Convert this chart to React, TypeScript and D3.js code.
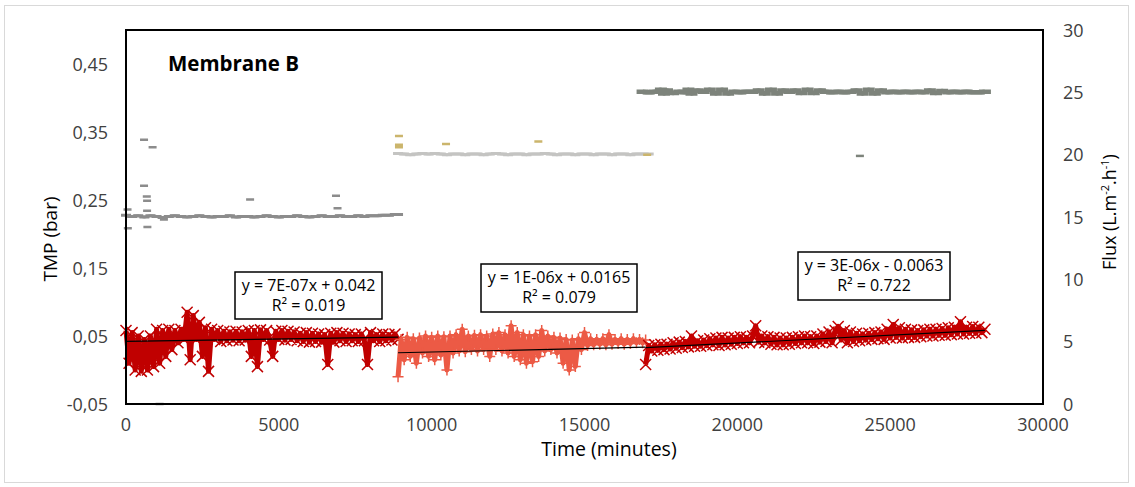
import React from 'react';
import * as d3 from 'd3';

// ---------- axis ticks ----------
const timeTicks = [0, 5000, 10000, 15000, 20000, 25000, 30000];
const tmpTicks = [-0.05, 0.05, 0.15, 0.25, 0.35, 0.45];
const fluxTicks = [0, 5, 10, 15, 20, 25, 30];

// ---------- TMP series (bar) : [time (min), TMP] ----------
const tmpPhase1: [number, number][] = [
  [0, 0.058], [100, 0.01], [200, 0.055], [300, 0.0], [400, 0.05], [500, -0.002], [600, 0.045], [700, 0.0],
  [800, 0.05], [900, 0.005], [1000, 0.06], [1100, 0.01], [1200, 0.058], [1300, 0.02], [1400, 0.06], [1500, 0.03],
  [1600, 0.058], [1700, 0.04], [1800, 0.06], [1900, 0.045], [2000, 0.085], [2100, 0.015], [2200, 0.08], [2300, 0.045],
  [2400, 0.07], [2500, 0.02], [2600, 0.062], [2700, -0.002], [2800, 0.06], [2900, 0.045], [3000, 0.058], [3100, 0.042],
  [3200, 0.057], [3300, 0.043], [3400, 0.056], [3500, 0.044], [3600, 0.057], [3700, 0.043], [3800, 0.056], [3900, 0.044],
  [4000, 0.058], [4100, 0.02], [4200, 0.058], [4300, 0.005], [4400, 0.059], [4500, 0.045], [4600, 0.058], [4700, 0.044],
  [4800, 0.02], [4900, 0.057], [5000, 0.045], [5100, 0.058], [5200, 0.044], [5300, 0.057], [5400, 0.045], [5500, 0.056],
  [5600, 0.043], [5700, 0.054], [5800, 0.042], [5900, 0.055], [6000, 0.041], [6100, 0.054], [6200, 0.042], [6300, 0.053],
  [6400, 0.041], [6500, 0.052], [6600, 0.008], [6700, 0.054], [6800, 0.041], [6900, 0.055], [7000, 0.043], [7100, 0.054],
  [7200, 0.042], [7300, 0.053], [7400, 0.043], [7500, 0.052], [7600, 0.042], [7700, 0.053], [7800, 0.043], [7900, 0.008],
  [8000, 0.055], [8100, 0.043], [8200, 0.052], [8300, 0.042], [8400, 0.053], [8500, 0.043], [8600, 0.052], [8700, 0.044],
  [8800, 0.053], [8900, 0.045],
];

const tmpPhase2: [number, number][] = [
  [8900, -0.01], [9000, 0.045], [9100, 0.015], [9200, 0.048], [9300, 0.02], [9400, 0.046], [9500, 0.01], [9600, 0.047],
  [9700, 0.025], [9800, 0.05], [9900, 0.02], [10000, 0.048], [10100, 0.015], [10200, 0.05], [10300, 0.022], [10400, 0.049],
  [10500, 0.0], [10600, 0.05], [10700, 0.025], [10800, 0.052], [10900, 0.028], [11000, 0.06], [11100, 0.027], [11200, 0.05],
  [11300, 0.03], [11400, 0.051], [11500, 0.028], [11600, 0.052], [11700, 0.03], [11800, 0.05], [11900, 0.02], [12000, 0.053],
  [12100, 0.03], [12200, 0.055], [12300, 0.028], [12400, 0.052], [12500, 0.025], [12600, 0.065], [12700, 0.02], [12800, 0.055],
  [12900, 0.015], [13000, 0.052], [13100, 0.01], [13200, 0.05], [13300, 0.012], [13400, 0.052], [13500, 0.02], [13600, 0.058],
  [13700, 0.028], [13800, 0.05], [13900, 0.03], [14000, 0.048], [14100, 0.025], [14200, 0.047], [14300, 0.01], [14400, 0.045],
  [14500, 0.0], [14600, 0.044], [14700, 0.005], [14800, 0.046], [14900, 0.03], [15000, 0.055], [15100, 0.036], [15200, 0.046],
  [15300, 0.037], [15400, 0.045], [15500, 0.038], [15600, 0.046], [15700, 0.037], [15800, 0.052], [15900, 0.038], [16000, 0.045],
  [16100, 0.039], [16200, 0.046], [16300, 0.038], [16400, 0.045], [16500, 0.039], [16600, 0.046], [16700, 0.04], [16800, 0.045],
  [16900, 0.04], [17000, 0.044],
];

const tmpPhase3: [number, number][] = [
  [17000, 0.008], [17100, 0.036], [17200, 0.028], [17300, 0.037], [17400, 0.029], [17500, 0.038], [17600, 0.03], [17700, 0.038],
  [17800, 0.031], [17900, 0.04], [18000, 0.032], [18100, 0.041], [18200, 0.033], [18300, 0.042], [18400, 0.034], [18500, 0.05],
  [18600, 0.035], [18700, 0.043], [18800, 0.035], [18900, 0.044], [19000, 0.036], [19100, 0.046], [19200, 0.037], [19300, 0.047],
  [19400, 0.036], [19500, 0.048], [19600, 0.037], [19700, 0.047], [19800, 0.038], [19900, 0.048], [20000, 0.039], [20100, 0.049],
  [20200, 0.04], [20300, 0.048], [20400, 0.04], [20500, 0.05], [20600, 0.065], [20700, 0.041], [20800, 0.05], [20900, 0.04],
  [21000, 0.049], [21100, 0.038], [21200, 0.048], [21300, 0.037], [21400, 0.047], [21500, 0.037], [21600, 0.047], [21700, 0.038],
  [21800, 0.048], [21900, 0.039], [22000, 0.049], [22100, 0.04], [22200, 0.05], [22300, 0.04], [22400, 0.049], [22500, 0.039],
  [22600, 0.05], [22700, 0.041], [22800, 0.053], [22900, 0.042], [23000, 0.056], [23100, 0.04], [23200, 0.058], [23300, 0.064],
  [23400, 0.044], [23500, 0.058], [23600, 0.04], [23700, 0.056], [23800, 0.042], [23900, 0.054], [24000, 0.043], [24100, 0.053],
  [24200, 0.044], [24300, 0.054], [24400, 0.045], [24500, 0.055], [24600, 0.046], [24700, 0.056], [24800, 0.045], [24900, 0.06],
  [25000, 0.047], [25100, 0.067], [25200, 0.048], [25300, 0.062], [25400, 0.047], [25500, 0.06], [25600, 0.048], [25700, 0.059],
  [25800, 0.048], [25900, 0.058], [26000, 0.049], [26100, 0.059], [26200, 0.05], [26300, 0.06], [26400, 0.05], [26500, 0.06],
  [26600, 0.051], [26700, 0.061], [26800, 0.051], [26900, 0.062], [27000, 0.052], [27100, 0.063], [27200, 0.053], [27300, 0.071],
  [27400, 0.053], [27500, 0.063], [27600, 0.054], [27700, 0.064], [27800, 0.054], [27900, 0.063], [28000, 0.055], [28100, 0.06],
];

// ---------- Flux series (L.m-2.h-1) : [time (min), flux] ----------
const fluxPhase1: [number, number][] = [
  [0, 15.15], [200, 15.05], [400, 15.1], [600, 15.0], [800, 15.1], [1000, 15.05], [1200, 14.95], [1400, 15.05],
  [1600, 15.1], [1800, 15.05], [2000, 15.0], [2200, 15.05], [2400, 15.1], [2600, 15.05], [2800, 15.0], [3000, 15.05],
  [3200, 15.05], [3400, 15.1], [3600, 15.0], [3800, 15.05], [4000, 15.05], [4200, 15.0], [4400, 15.05], [4600, 15.1],
  [4800, 15.05], [5000, 15.0], [5200, 15.05], [5400, 15.05], [5600, 15.1], [5800, 15.05], [6000, 15.0], [6200, 15.05],
  [6400, 15.1], [6600, 15.05], [6800, 15.05], [7000, 15.1], [7200, 15.05], [7400, 15.05], [7600, 15.1], [7800, 15.05],
  [8000, 15.1], [8200, 15.1], [8400, 15.15], [8600, 15.15], [8800, 15.2], [8900, 15.2],
];
const fluxOutliers1: [number, number][] = [
  [50, 15.6], [60, 14.1], [590, 21.2], [870, 20.6], [590, 17.5], [680, 16.65], [690, 16.3], [690, 15.5],
  [700, 14.2], [1240, 14.8], [1100, 0], [4060, 16.4], [6870, 16.7], [6920, 15.7],
];

const fluxPhase2: [number, number][] = [
  [8900, 20.1], [9100, 20.05], [9300, 20.0], [9500, 20.05], [9700, 20.1], [9900, 20.05], [10100, 20.1], [10300, 20.05],
  [10500, 20.0], [10700, 20.05], [10900, 20.05], [11100, 20.0], [11300, 20.05], [11500, 20.05], [11700, 20.0], [11900, 20.05],
  [12100, 20.1], [12300, 20.05], [12500, 20.0], [12700, 20.05], [12900, 20.05], [13100, 20.0], [13300, 20.05], [13500, 20.05],
  [13700, 20.1], [13900, 20.05], [14100, 20.0], [14300, 20.05], [14500, 20.05], [14700, 20.0], [14900, 20.05], [15100, 20.05],
  [15300, 20.0], [15500, 20.05], [15700, 20.05], [15900, 20.0], [16100, 20.05], [16300, 20.05], [16500, 20.0], [16700, 20.05],
  [16900, 20.05], [17100, 20.05],
];
const fluxOutliers2: [number, number][] = [
  [8930, 21.5], [8930, 20.8], [8930, 20.6], [10470, 20.85], [13490, 21.05], [17050, 20.0],
];

const fluxPhase3: [number, number][] = [
  [16900, 25.05], [17100, 25.0], [17300, 25.05], [17500, 25.2], [17600, 24.9], [17700, 25.15], [17900, 24.95], [18100, 25.05],
  [18300, 25.0], [18400, 25.2], [18500, 24.9], [18700, 25.15], [18900, 25.05], [19100, 25.2], [19300, 24.9], [19500, 25.2],
  [19700, 24.9], [19900, 25.05], [20100, 25.0], [20300, 25.05], [20500, 25.05], [20700, 25.15], [20900, 24.9], [21100, 25.2],
  [21300, 24.9], [21500, 25.15], [21700, 25.05], [21900, 25.15], [22100, 24.95], [22300, 25.2], [22500, 24.95], [22700, 25.15],
  [22900, 25.05], [23100, 25.0], [23300, 25.05], [23500, 25.0], [23700, 25.05], [23900, 25.15], [24100, 24.9], [24300, 25.2],
  [24500, 24.9], [24700, 25.15], [24900, 25.0], [25100, 25.05], [25300, 25.0], [25500, 25.05], [25700, 25.0], [25900, 25.05],
  [26100, 25.0], [26300, 25.15], [26500, 24.95], [26700, 25.1], [26900, 25.0], [27100, 25.05], [27300, 25.0], [27500, 25.05],
  [27700, 25.0], [27900, 25.0], [28100, 25.05],
];
const fluxOutliers3: [number, number][] = [[24010, 19.9]];

// ---------- linear trendlines ----------
const trendSlopes = [7e-7, 1e-6, 2.3e-6];
const trendIntercepts = [0.042, 0.0165, -0.0063];
const trendStarts = [0, 8900, 17000];
const trendEnds = [8900, 17000, 28100];
const equationLine1 = ['y = 7E-07x + 0.042', 'y = 1E-06x + 0.0165', 'y = 3E-06x - 0.0063'];
const equationLine2 = ['R² = 0.019', 'R² = 0.079', 'R² = 0.722'];

const FONT = "'Open Sans', 'DejaVu Sans', sans-serif";

export default function App() {
  const x = d3.scaleLinear().domain([0, 30000]).range([126, 1043]);
  const yL = d3.scaleLinear().domain([-0.05, 0.5]).range([404, 30]);
  const yR = d3.scaleLinear().domain([0, 30]).range([404, 30]);

  const lineL = d3
    .line<[number, number]>()
    .x((d) => x(d[0]))
    .y((d) => yL(d[1]));
  const lineR = d3
    .line<[number, number]>()
    .x((d) => x(d[0]))
    .y((d) => yR(d[1]))
    .curve(d3.curveMonotoneX);

  const crossPath = (pts: [number, number][], r: number) =>
    pts
      .map(([t, v]) => {
        const px = x(t);
        const py = yL(v);
        return `M${px - r},${py - r}L${px + r},${py + r}M${px - r},${py + r}L${px + r},${py - r}`;
      })
      .join('');
  const plusPath = (pts: [number, number][], r: number) =>
    pts
      .map(([t, v]) => {
        const px = x(t);
        const py = yL(v);
        return `M${px - r},${py}H${px + r}M${px},${py - r}V${py + r}`;
      })
      .join('');
  const dashPath = (pts: [number, number][], w: number, h: number) =>
    pts
      .map(([t, v]) => {
        const px = x(t);
        const py = yR(v);
        return `M${px - w / 2},${py - h / 2}h${w}v${h}h${-w}Z`;
      })
      .join('');

  const fmtTmp = (v: number) => d3.format('.2f')(v).replace('.', ',').replace('\u2212', '-');

  const boxes = [
    { cx: 308.5, top: 272, w: 147, h: 47 },
    { cx: 559, top: 264, w: 156, h: 48 },
    { cx: 874, top: 252, w: 152, h: 48 },
  ];

  return (
    <svg
      width={1135}
      height={487}
      style={{ position: 'absolute', left: 0, top: 0, background: '#fff' }}
      fontFamily={FONT}
    >
      <rect x={0} y={0} width={1135} height={487} fill="#fff" />
      <rect x={4.5} y={5.5} width={1124} height={477} fill="none" stroke="#d9d9d9" strokeWidth={1} />

      {/* Flux series (secondary axis) */}
      <path d={lineR(fluxPhase1) || ''} fill="none" stroke="#8c8c8c" strokeWidth={3} />
      <path d={dashPath(fluxPhase1, 10, 3)} fill="#8c8c8c" />
      <path d={dashPath(fluxOutliers1, 8, 2.5)} fill="#8c8c8c" />
      <path d={lineR(fluxPhase2) || ''} fill="none" stroke="#c4c4c2" strokeWidth={3} />
      <path d={dashPath(fluxPhase2, 10, 3)} fill="#c4c4c2" />
      <path d={dashPath(fluxOutliers2, 8, 2.5)} fill="#cbb56c" />
      <path d={lineR(fluxPhase3) || ''} fill="none" stroke="#7d837b" strokeWidth={4.5} />
      <path d={dashPath(fluxPhase3, 12, 4.5)} fill="#7d837b" />
      <path d={dashPath(fluxOutliers3, 8, 2.5)} fill="#7d837b" />

      {/* TMP series */}
      <path d={lineL(tmpPhase1) || ''} fill="none" stroke="#c00000" strokeWidth={5} strokeLinejoin="round" />
      <path d={crossPath(tmpPhase1, 5.5)} fill="none" stroke="#c00000" strokeWidth={1.5} />
      <path d={lineL(tmpPhase2) || ''} fill="none" stroke="#ec5a45" strokeWidth={5} strokeLinejoin="round" />
      <path d={plusPath(tmpPhase2, 5.5)} fill="none" stroke="#ec5a45" strokeWidth={1.5} />
      <path d={lineL(tmpPhase3) || ''} fill="none" stroke="#c40000" strokeWidth={5} strokeLinejoin="round" />
      <path d={crossPath(tmpPhase3, 5.5)} fill="none" stroke="#c40000" strokeWidth={1.5} />

      {/* trendlines */}
      {trendSlopes.map((s, i) => (
        <line
          key={'tr' + i}
          x1={x(trendStarts[i])}
          y1={yL(s * trendStarts[i] + trendIntercepts[i])}
          x2={x(trendEnds[i])}
          y2={yL(s * trendEnds[i] + trendIntercepts[i])}
          stroke="#000"
          strokeWidth={1.2}
        />
      ))}

      {/* plot frame */}
      <rect x={126} y={30} width={917} height={374} fill="none" stroke="#000" strokeWidth={2} />

      {/* left axis labels */}
      {tmpTicks.map((t) => (
        <text key={'l' + t} x={108} y={yL(t) + 6.5} textAnchor="end" fontSize={18} fill="#404040">
          {fmtTmp(t)}
        </text>
      ))}
      {/* right axis labels */}
      {fluxTicks.map((t) => (
        <text key={'r' + t} x={1063} y={yR(t) + 6.5} textAnchor="start" fontSize={18} fill="#404040">
          {t}
        </text>
      ))}
      {/* x axis labels */}
      {timeTicks.map((t) => (
        <text key={'x' + t} x={x(t)} y={431} textAnchor="middle" fontSize={18} fill="#404040">
          {t}
        </text>
      ))}

      {/* axis titles */}
      <text x={609} y={456} textAnchor="middle" fontSize={19.5} fill="#000">
        Time (minutes)
      </text>
      <text transform="translate(57,239) rotate(-90)" textAnchor="middle" fontSize={19} fill="#000">
        TMP (bar)
      </text>
      <text transform="translate(1116,212) rotate(-90)" textAnchor="middle" fontSize={18} fill="#000">
        Flux (L.m
        <tspan dy={-7} fontSize={11}>-2</tspan>
        <tspan dy={7}>.h</tspan>
        <tspan dy={-7} fontSize={11}>-1</tspan>
        <tspan dy={7}>)</tspan>
      </text>

      {/* chart title */}
      <text x={168} y={71} fontSize={20.5} fontWeight="bold" fill="#000">
        Membrane B
      </text>

      {/* equation boxes */}
      {boxes.map((b, i) => (
        <g key={'eq' + i}>
          <rect x={b.cx - b.w / 2} y={b.top} width={b.w} height={b.h} fill="#fff" stroke="#000" strokeWidth={1.5} />
          <text x={b.cx} y={b.top + 18.5} textAnchor="middle" fontSize={16} fill="#000">
            {equationLine1[i]}
          </text>
          <text x={b.cx} y={b.top + 39} textAnchor="middle" fontSize={16} fill="#000">
            {equationLine2[i]}
          </text>
        </g>
      ))}
    </svg>
  );
}
